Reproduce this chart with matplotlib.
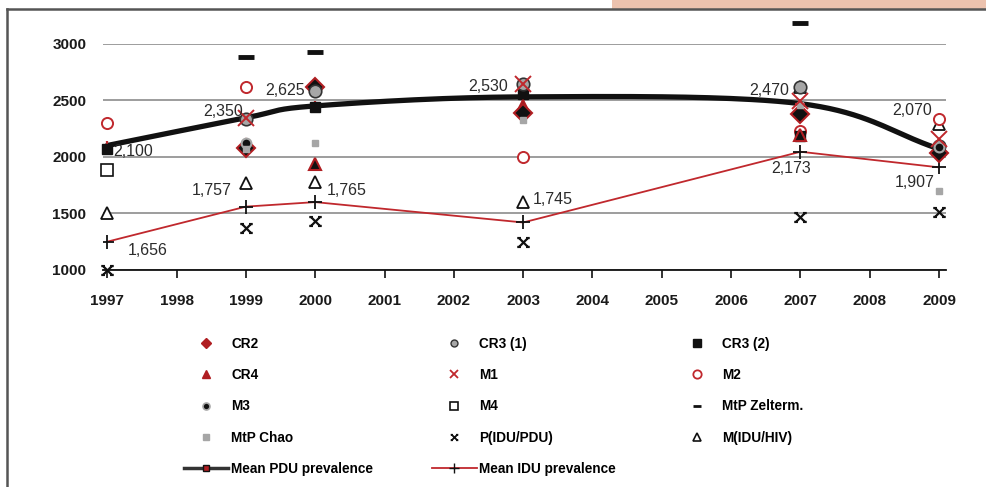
import numpy as np
import matplotlib
matplotlib.use("Agg")
import matplotlib.pyplot as plt
from matplotlib.lines import Line2D
from matplotlib.path import Path
from matplotlib.patches import Rectangle

plt.rcParams['font.family'] = ['Liberation Sans', 'DejaVu Sans']

years = [1997, 1999, 2000, 2003, 2007, 2009]
nan = np.nan

# point estimates by method (NaN = no estimate that year)
cr2 = [nan, 2075, 2615, 2390, 2380, 2030]
cr3_1 = [nan, 2330, 2585, 2645, 2615, 2095]
cr3_2 = [2065, nan, 2440, 2555, 2185, 2080]
cr4 = [nan, nan, 1940, 2450, 2195, 2070]
m1 = [nan, 2340, nan, 2645, 2490, 2160]
m2 = [2300, 2620, nan, 2000, 2230, 2335]
m3 = [nan, 2120, nan, nan, nan, 2090]
m4 = [1885, nan, nan, nan, nan, nan]
mtp_zelterm = [nan, 2885, 2930, nan, 3180, nan]
mtp_chao = [nan, 2070, 2120, 2325, 2460, 1700]
p_idu_pdu = [1000, 1370, 1430, 1250, 1470, 1510]
m_idu_hiv = [1500, 1770, 1780, 1600, 2620, 2290]

mean_pdu = [2100, 2345, 2450, 2530, 2470, 2070]
mean_idu = [1250, 1560, 1600, 1420, 2045, 1907]

# text annotations as printed on the chart
pdu_labels = ['2,100', '2,350', '2,625', '2,530', '2,470', '2,070']
idu_labels = ['1,656', '1,757', '1,765', '1,745', '2,173', '1,907']

RED = '#c0282d'
DRED = '#b01e22'
GREY = '#a6a6a6'


def smooth(xs, ys, n=40):
    # Catmull-Rom through the points, like Excel's smoothed line
    p = np.column_stack([xs, ys]).astype(float)
    p = np.vstack([p[0] - (p[1] - p[0]), p, p[-1] + (p[-1] - p[-2])])
    out = []
    for i in range(1, len(p) - 2):
        p0, p1, p2, p3 = p[i - 1], p[i], p[i + 1], p[i + 2]
        t = np.linspace(0, 1, n)[:, None]
        seg = 0.5 * ((2 * p1) + (-p0 + p2) * t + (2 * p0 - 5 * p1 + 4 * p2 - p3) * t ** 2
                     + (-p0 + 3 * p1 - 3 * p2 + p3) * t ** 3)
        out.append(seg)
    out = np.vstack(out)
    return out[:, 0], out[:, 1]


# P(IDU/PDU) glyph: an x with little feet at each end
xbar = Path([(-1, -1), (1, 1), (-1, 1), (1, -1),
             (-1.4, 1), (-0.6, 1), (0.6, 1), (1.4, 1),
             (-1.4, -1), (-0.6, -1), (0.6, -1), (1.4, -1)],
            [Path.MOVETO, Path.LINETO] * 6)

fig = plt.figure(figsize=(9.87, 4.87), dpi=100)
ax = fig.add_axes([0.1044, 0.4456, 0.8541, 0.4647])

sx, sy = smooth(years, mean_pdu)
ax.plot(sx, sy, color='#111111', lw=3.8, solid_capstyle='round', zorder=3)
ax.plot(years, mean_pdu, ls='none', marker='+', ms=7, mew=1.6, color=RED, zorder=4)
ax.plot(years, mean_idu, color=RED, lw=1.3, marker='+', ms=10, mew=1.3, mec='#111111', zorder=3)

styles = [
    (m_idu_hiv, dict(marker='^', ms=8, mfc='white', mec='#111111', mew=1.3)),
    (p_idu_pdu, dict(marker=xbar, ms=9, mfc='none', mec='#111111', mew=1.6)),
    (mtp_zelterm, dict(marker='_', ms=11, mec='#111111', mew=3.5)),
    (m4, dict(marker='s', ms=8, mfc='white', mec='#111111', mew=1.2)),
    (m2, dict(marker='o', ms=8, mfc='white', mec=RED, mew=1.4)),
    (cr3_2, dict(marker='s', ms=7, mfc='#111111', mec='#111111')),
    (cr4, dict(marker='^', ms=9, mfc='#111111', mec=DRED, mew=1.5)),
    (cr2, dict(marker='D', ms=9, mfc='#111111', mec=DRED, mew=1.5)),
    (cr3_1, dict(marker='o', ms=9, mfc=GREY, mec='#333333', mew=1.2)),
    (m3, dict(marker='o', ms=7, mfc='#111111', mec=GREY, mew=1.5)),
    (mtp_chao, dict(marker='s', ms=4.5, mfc=GREY, mec=GREY)),
    (m1, dict(marker='x', ms=11, mec=RED, mew=1.4)),
]
for vals, st in styles:
    ax.plot(years, vals, ls='none', zorder=5, clip_on=False, **st)

# value annotations
pdu_pos = [(1997.09, 2050, 'left'), (1998.96, 2405, 'right'), (1999.85, 2585, 'right'),
           (2002.78, 2625, 'right'), (2006.84, 2590, 'right'), (2008.9, 2410, 'right')]
idu_pos = [(1997.29, 1175, 'left'), (1998.8, 1700, 'right'), (2000.17, 1700, 'left'),
           (2003.14, 1625, 'left'), (2006.87, 1900, 'center'), (2008.93, 1770, 'right')]
for lab, (x, y, ha) in zip(pdu_labels + idu_labels, pdu_pos + idu_pos):
    ax.text(x, y, lab, ha=ha, va='center', fontsize=11.5, color='#2b2b2b', zorder=6)

ax.set_xlim(1996.94, 2009.1)
ax.set_ylim(1000, 3000)
ax.set_xticks(range(1997, 2010))
ax.set_yticks([1000, 1500, 2000, 2500, 3000])
ax.yaxis.grid(True, color='#8c8c8c', lw=1.2)
ax.set_axisbelow(True)
for s in ['top', 'right', 'left']:
    ax.spines[s].set_visible(False)
ax.spines['bottom'].set_color('#111111')
ax.spines['bottom'].set_linewidth(1.3)
ax.tick_params(axis='x', direction='out', length=6, width=1.2, pad=11, labelsize=11, color='#111111')
ax.tick_params(axis='y', length=0, pad=12, labelsize=11)
for t in ax.get_xticklabels() + ax.get_yticklabels():
    t.set_fontweight('bold')
    t.set_color('#1a1a1a')

# legend: three columns, filled column by column
def mk(label, **kw):
    return Line2D([], [], ls='none', label=label, **kw)

h_cr2 = mk('CR2', marker='D', ms=5, mfc=DRED, mec=DRED)
h_cr31 = mk('CR3 (1)', marker='o', ms=5, mfc=GREY, mec='#333333', mew=1)
h_cr32 = mk('CR3 (2)', marker='s', ms=6, mfc='#111111', mec='#111111')
h_cr4 = mk('CR4', marker='^', ms=6, mfc=DRED, mec=DRED)
h_m1 = mk('M1', marker='x', ms=6, mec=RED, mew=1.3)
h_m2 = mk('M2', marker='o', ms=6, mfc='white', mec=RED, mew=1.3)
h_m3 = mk('M3', marker='o', ms=5, mfc='#111111', mec=GREY, mew=1.2)
h_m4 = mk('M4', marker='s', ms=6, mfc='white', mec='#111111', mew=1.2)
h_zel = mk('MtP Zelterm.', marker='_', ms=6, mec='#111111', mew=2)
h_chao = mk('MtP Chao', marker='s', ms=4, mfc=GREY, mec=GREY)
h_pidu = mk('P(IDU/PDU)', marker=xbar, ms=5.5, mfc='none', mec='#111111', mew=1.3)
h_mhiv = mk('M(IDU/HIV)', marker='^', ms=6, mfc='white', mec='#111111', mew=1.2)
h_pdu = Line2D([], [], color='#333333', lw=2.5, marker='s', ms=5, mfc=DRED, mec='#111111',
               label='Mean PDU prevalence')
h_idu = Line2D([], [], color=RED, lw=1.3, marker='+', ms=7, mec='#111111',
               label='Mean IDU prevalence')

handles = [h_cr2, h_cr4, h_m3, h_chao, h_pdu,
           h_cr31, h_m1, h_m4, h_pidu, h_idu,
           h_cr32, h_m2, h_zel, h_mhiv]
fig.legend(handles=handles, loc='upper left', bbox_to_anchor=(0.186, 0.309), ncol=3,
           frameon=False, borderaxespad=0, borderpad=0, handlelength=3.3,
           handletextpad=0.2, columnspacing=4.3, labelspacing=1.28,
           prop={'weight': 'bold', 'size': 9.8})

# page frame and background strip
fig.add_artist(Rectangle((0.62, 0.982), 0.38, 0.018, transform=fig.transFigure,
                         color='#ecc2ae', lw=0, zorder=0))
fig.add_artist(Line2D([0.0075, 0.0075], [0.0, 0.982], transform=fig.transFigure,
                      color='#555555', lw=1.8))
fig.add_artist(Line2D([0.0075, 1.0], [0.982, 0.982], transform=fig.transFigure,
                      color='#555555', lw=1.8))

fig.savefig('out.png', dpi=100)
